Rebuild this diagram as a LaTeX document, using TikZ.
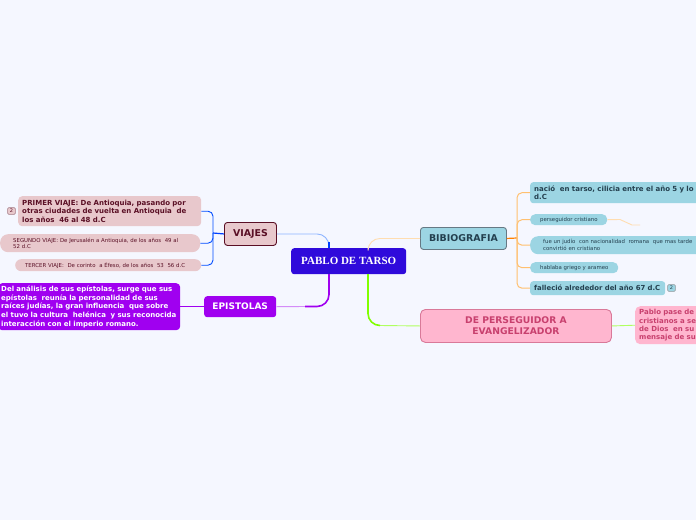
\documentclass[tikz,border=0pt]{standalone}
\usepackage{fontspec}
\setmainfont{DejaVu Sans}
\newfontfamily\titlefont{Liberation Serif}
\definecolor{pagecol}{HTML}{F5F7FF}
\definecolor{maincol}{HTML}{2F0ADB}
\definecolor{viajecol}{HTML}{E8C8CC}
\definecolor{viajetxt}{HTML}{5A0F25}
\definecolor{epistcol}{HTML}{A000F0}
\definecolor{bibliocol}{HTML}{9CD5E3}
\definecolor{bibliotxt}{HTML}{24404F}
\definecolor{pinkcol}{HTML}{FFB6CF}
\definecolor{pinktxt}{HTML}{C8406E}
\definecolor{orangeline}{HTML}{FFC070}
\definecolor{orangepale}{HTML}{FFDDB0}
\definecolor{greenpale}{HTML}{B0FF60}
\definecolor{bluepale}{HTML}{8DB4FF}
\tikzset{
  x=1pt, y=-1pt,
  box/.style={rounded corners=3pt, inner xsep=4pt, inner ysep=0pt, align=left, anchor=north west},
  viajebox/.style={box, fill=viajecol, text=viajetxt},
  bibliobox/.style={box, fill=bibliocol, text=bibliotxt},
  badge/.style={rounded corners=1.5pt, line width=0.8pt, inner sep=0pt, minimum width=8pt, minimum height=7pt, font=\fontsize{5}{5}\selectfont},
  bluelink/.style={draw=blue!70!cyan, line width=0.9pt, rounded corners=5pt},
  orangelink/.style={draw=orangeline, line width=1pt, rounded corners=5pt},
}
\begin{document}
\begin{tikzpicture}
\useasboundingbox (0,0) rectangle (696,520);
\clip (0,0) rectangle (696,520);
\fill[pagecol] (0,0) rectangle (696,520);

% central topic
\node[box, fill=maincol, text=white, align=center, minimum width=115pt, minimum height=26pt, font=\titlefont\bfseries\fontsize{11}{12}\selectfont] (pablo) at (291,248) {PABLO DE TARSO};

% main topics
\node[viajebox, draw=viajetxt, line width=0.9pt, align=center, minimum width=52pt, minimum height=23pt, font=\bfseries\fontsize{9.4}{10}\selectfont] (viajes) at (224,222) {VIAJES};
\node[box, fill=epistcol, text=white, align=center, minimum width=72pt, minimum height=21pt, font=\bfseries\fontsize{9}{10}\selectfont] (epistolas) at (204,296) {EPISTOLAS};
\node[bibliobox, draw=bibliotxt!70, line width=0.9pt, align=center, minimum width=86pt, minimum height=22pt, font=\bfseries\fontsize{9.4}{10}\selectfont] (biblio) at (420,227) {BIBIOGRAFIA};
\node[box, rounded corners=5pt, fill=pinkcol, draw=pinktxt!70, line width=0.9pt, text=pinktxt, align=center, minimum width=191pt, minimum height=33pt, font=\bfseries\fontsize{9.2}{11}\selectfont] (evangel) at (420,309) {DE PERSEGUIDOR A\\EVANGELIZADOR};

% left side
\node[viajebox, rounded corners=4pt, text width=175pt, minimum height=30pt, font=\bfseries\fontsize{7}{8.4}\selectfont] (primer) at (18,196) {PRIMER VIAJE: De Antioquia, pasando por\\otras ciudades de vuelta en Antioquia~ de\\los años~ 46 al 48 d.C};
\node[viajebox, rounded corners=8pt, inner xsep=13pt, text width=174pt, minimum height=18pt, font=\fontsize{5.4}{6.6}\selectfont] (segundo) at (0,234) {SEGUNDO VIAJE: De Jerusalén a Antioquia, de los años~ 49 al\\52 d.C};
\node[viajebox, rounded corners=6pt, inner xsep=10pt, text width=166pt, minimum height=12pt, font=\fontsize{5.4}{6.6}\selectfont] (tercer) at (15,259) {TERCER VIAJE:~ De corinto~ a Éfeso, de los años~ 53~ 56 d.C};
\node[badge, fill=viajecol, draw=viajetxt!40, text=viajetxt] (primerdos) at (11.5,211) {2};
\node[box, rounded corners=4pt, fill=epistcol, text=white, inner xsep=3pt, text width=176pt, minimum height=47pt, font=\bfseries\fontsize{7}{8.7}\selectfont] (analisis) at (-2,283) {Del análisis de sus epístolas, surge que sus\\epístolas~ reunía la personalidad de sus\\raíces judías, la gran influencia~ que sobre\\el tuvo la cultura~ helénica~ y sus reconocida\\interacción con el imperio romano.};

% right side
\node[bibliobox, text width=182pt, minimum height=21pt, font=\bfseries\fontsize{7}{8.2}\selectfont] (nacio) at (530,182) {nació~ en tarso, cilicia entre el año 5 y lo\\d.C};
\node[bibliobox, rounded corners=5pt, inner xsep=10pt, text width=57pt, minimum height=11pt, font=\fontsize{5.4}{6.6}\selectfont] (persegui) at (530,214) {\mbox{perseguidor cristiano}};
\node[bibliobox, rounded corners=8pt, inner xsep=13pt, text width=164pt, minimum height=18pt, font=\fontsize{5.4}{7.2}\selectfont] (judio) at (530,236) {fue un judío~ con nacionalidad~ romana~ que mas tarde\\convirtió en cristiano};
\node[bibliobox, rounded corners=5pt, inner xsep=10pt, text width=68pt, minimum height=11pt, font=\fontsize{5.4}{6.6}\selectfont] (griego) at (530,262) {\mbox{hablaba griego y arameo}};
\node[bibliobox, text width=127pt, minimum height=14pt, font=\bfseries\fontsize{6.9}{8.2}\selectfont] (fallecio) at (530,281) {\mbox{falleció alrededor del año 67 d.C}};
\node[badge, fill=bibliocol, draw=bibliotxt!40, text=bibliotxt] (falleciodos) at (671.5,288) {2};
\node[box, rounded corners=5pt, fill=pinkcol, text=pinktxt, text width=77pt, minimum height=38pt, font=\bfseries\fontsize{7}{8.2}\selectfont] (pablopase) at (635,306) {Pablo pase de\\cristianos a se\\de Dios~ en su\\mensaje de su};

% free ends and bends
\coordinate (viajesbus) at (213,233);
\coordinate (bibliobus) at (517,238);
\coordinate (tailend) at (640,225);

% central links
\draw[draw=bluepale, line width=0.9pt, rounded corners=12pt] (viajes.east) -| (329,248);
\draw[draw=blue!75!cyan, line width=1.3pt] (329,242) -- (329,248);
\draw[draw=epistcol!45!white, line width=0.9pt] (epistolas.east) -- (305,306.5);
\draw[draw=epistcol, line width=1.6pt, rounded corners=12pt] (305,306.5) -| (329,274);
\draw[draw=orangepale, line width=0.9pt, rounded corners=12pt] (biblio.west) -| (368,248);
\draw[draw=greenpale, line width=0.9pt] (evangel.west) -- (380,325.5);
\draw[draw=green!50!yellow, line width=1.6pt, rounded corners=12pt] (380,325.5) -| (368,274);

% viajes links
\draw[draw=blue!75!cyan, line width=1.2pt] (viajes.west) -- (viajesbus);
\draw[bluelink] (viajesbus) |- (primer.east);
\draw[bluelink] (viajesbus) |- (segundo.east);
\draw[bluelink] (viajesbus) |- (tercer.east);
\draw[draw=epistcol, line width=0.9pt] (epistolas.west) -- (analisis.east);

% bibliografia links
\draw[draw=orange, line width=1.2pt] (biblio.east) -- (bibliobus);
\draw[orangelink] (bibliobus) |- (nacio.west);
\draw[orangelink] (bibliobus) |- (persegui.west);
\draw[orangelink] (bibliobus) |- (judio.west);
\draw[orangelink] (bibliobus) |- (griego.west);
\draw[orangelink] (bibliobus) |- (fallecio.west);
\draw[draw=orangepale, line width=0.9pt] (persegui.east) -- (620,219.5) -- (632,225) -- (tailend);

% pink link
\draw[draw=greenpale, line width=0.9pt] (evangel.east) -- (pablopase.west);
\end{tikzpicture}
\end{document}
